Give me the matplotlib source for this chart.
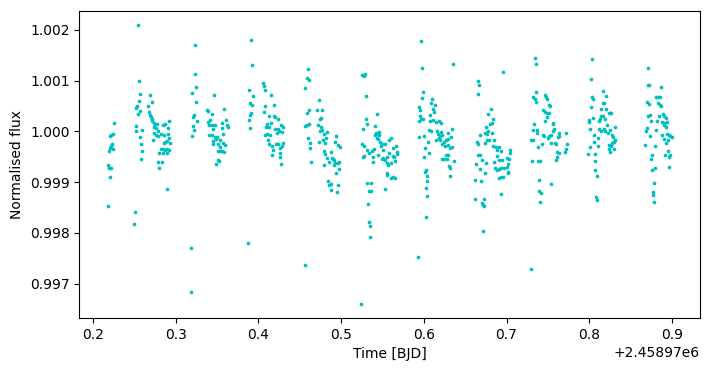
import numpy as np
import matplotlib
matplotlib.use("Agg")
import matplotlib.pyplot as plt

# time offsets are relative to BJD0
BJD0 = 2458970.0

t_a = [0.2258, 0.2218, 0.2242, 0.2206, 0.2226, 0.2218, 0.2202, 0.2246, 0.2197, 0.2177, 0.2193, 0.2214, 0.2210, 0.2185]
f_a = [1.00017, 0.99992, 0.99994, 0.99991, 0.99976, 0.99972, 0.99967, 0.99966, 0.99961, 0.99934, 0.99928, 0.99928, 0.99911, 0.99852]

t_b = [0.2548, 0.2560, 0.2572, 0.2560, 0.2516, 0.2536, 0.2572, 0.2548, 0.2524, 0.2524, 0.2596, 0.2572, 0.2584, 0.2596, 0.2584, 0.2512, 0.2500]
f_b = [1.00210, 1.00100, 1.00074, 1.00060, 1.00046, 1.00049, 1.00040, 1.00035, 1.00011, 1.00001, 1.00003, 0.99988, 0.99976, 0.99962, 0.99946, 0.99842, 0.99818]

t_c = [0.2693, 0.2717, 0.2669, 0.2681, 0.2685, 0.2697, 0.2709, 0.2717, 0.2733, 0.2750, 0.2774, 0.2742, 0.2766, 0.2782,
       0.2850, 0.2866, 0.2919, 0.2911, 0.2742, 0.2758, 0.2790, 0.2822, 0.2854, 0.2911, 0.2729, 0.2923, 0.2870, 0.2895,
       0.2854, 0.2935, 0.2822, 0.2842, 0.2870, 0.2895, 0.2923, 0.2802, 0.2846, 0.2899, 0.2786, 0.2838, 0.2802, 0.2899]
f_c = [1.00072, 1.00058, 1.00049, 1.00038, 1.00033, 1.00028, 1.00024, 1.00020, 1.00017, 1.00014, 1.00014, 1.00008, 1.00007, 1.00001,
       1.00012, 1.00014, 1.00020, 1.00007, 0.99997, 0.99993, 0.99990, 0.99995, 0.99993, 0.99995, 0.99982, 0.99987, 0.99979, 0.99981,
       0.99977, 0.99978, 0.99966, 0.99965, 0.99963, 0.99966, 0.99964, 0.99957, 0.99957, 0.99957, 0.99940, 0.99940, 0.99928, 0.99887]

t_d = [0.3237, 0.3237, 0.3249, 0.3201, 0.3249, 0.3225, 0.3213, 0.3261, 0.3213, 0.3225, 0.3201, 0.3189, 0.3189]
f_d = [1.00171, 1.00112, 1.00088, 1.00076, 1.00058, 1.00033, 1.00028, 1.00021, 1.00011, 1.00003, 0.99990, 0.99771, 0.99684]

t_e = [0.3467, 0.3374, 0.3390, 0.3443, 0.3588, 0.3390, 0.3419, 0.3406, 0.3435, 0.3471, 0.3455, 0.3560, 0.3604, 0.3616,
       0.3628, 0.3564, 0.3406, 0.3439, 0.3471, 0.3495, 0.3576, 0.3455, 0.3487, 0.3535, 0.3447, 0.3515, 0.3576, 0.3600,
       0.3535, 0.3511, 0.3535, 0.3560, 0.3588, 0.3511, 0.3527, 0.3491]
f_e = [1.00072, 1.00042, 1.00040, 1.00035, 1.00045, 1.00018, 1.00022, 1.00013, 1.00012, 1.00013, 1.00005, 1.00017, 1.00022, 1.00012,
       1.00009, 1.00007, 0.99993, 0.99993, 0.99988, 0.99988, 0.99995, 0.99981, 0.99984, 0.99983, 0.99976, 0.99975, 0.99978, 0.99974,
       0.99969, 0.99962, 0.99961, 0.99962, 0.99959, 0.99944, 0.99942, 0.99936]

t_f = [0.3910, 0.3926, 0.3890, 0.3938, 0.3898, 0.3926, 0.3910, 0.3902, 0.3890, 0.3902, 0.4059, 0.4071, 0.4084, 0.4084,
       0.4071, 0.4132, 0.4108, 0.4096, 0.4132, 0.4084, 0.4108, 0.4120, 0.4128, 0.3878,
       0.4156, 0.4192, 0.4192, 0.4204, 0.4241, 0.4156, 0.4204, 0.4241, 0.4277, 0.4301, 0.4229, 0.4253, 0.4289, 0.4144,
       0.4168, 0.4217, 0.4241, 0.4301, 0.4265, 0.4289, 0.4180, 0.4265, 0.4265, 0.4168, 0.4277]
f_f = [1.00180, 1.00131, 1.00082, 1.00070, 1.00056, 1.00051, 1.00037, 1.00033, 1.00023, 1.00007, 1.00096, 1.00090, 1.00082, 1.00049,
       1.00039, 1.00031, 1.00014, 1.00009, 1.00009, 0.99993, 0.99995, 0.99982, 0.99975, 0.99781,
       1.00072, 1.00051, 1.00031, 1.00028, 1.00025, 1.00017, 1.00005, 1.00004, 1.00012, 1.00009, 0.99997, 1.00001, 0.99999, 0.99992,
       0.99972, 0.99976, 0.99976, 0.99977, 0.99968, 0.99971, 0.99963, 0.99958, 0.99950, 0.99954, 0.99936]

t_g = [0.4603, 0.4591, 0.4615, 0.4567, 0.4591, 0.4615, 0.4591, 0.4615, 0.4567, 0.4603, 0.4628, 0.4628, 0.4640,
       0.4736, 0.4712, 0.4773, 0.4757, 0.4748, 0.4724, 0.4761, 0.4773, 0.4748, 0.4789, 0.4833, 0.4736, 0.4785, 0.4805,
       0.4821, 0.4789, 0.4809, 0.4829, 0.4797, 0.4857, 0.4881, 0.4890, 0.4906, 0.4918, 0.4926, 0.4942, 0.4966, 0.4990,
       0.4930, 0.4958, 0.4974, 0.4978, 0.4914, 0.4942, 0.4845, 0.4857, 0.4881, 0.4966, 0.4881, 0.4954, 0.4567]
f_g = [1.00123, 1.00106, 1.00102, 1.00086, 1.00037, 1.00043, 1.00013, 1.00015, 1.00011, 0.99986, 0.99978, 0.99968, 0.99940,
       1.00062, 1.00043, 1.00043, 1.00026, 1.00025, 1.00013, 1.00009, 1.00003, 1.00001, 0.99995, 0.99999, 0.99980, 0.99982, 0.99978,
       0.99987, 0.99962, 0.99956, 0.99948, 0.99933, 0.99939, 0.99959, 0.99948, 0.99946, 0.99944, 0.99979, 0.99991, 0.99973, 0.99970,
       0.99938, 0.99938, 0.99940, 0.99925, 0.99934, 0.99917, 0.99903, 0.99895, 0.99896, 0.99895, 0.99885, 0.99881, 0.99736]

t_h = [0.5256, 0.5280, 0.5293, 0.5305, 0.5305, 0.5317, 0.5268, 0.5438, 0.5413, 0.5256, 0.5280, 0.5317, 0.5268, 0.5280,
       0.5333, 0.5377, 0.5401, 0.5381, 0.5381, 0.5405, 0.5421, 0.5438, 0.5454, 0.5462, 0.5430, 0.5446, 0.5470, 0.5494,
       0.5478, 0.5526, 0.5502, 0.5446, 0.5490, 0.5510, 0.5534, 0.5558, 0.5583, 0.5599, 0.5583, 0.5631, 0.5667, 0.5679,
       0.5679, 0.5623, 0.5643, 0.5655, 0.5607, 0.5558, 0.5571, 0.5550, 0.5550, 0.5607, 0.5631, 0.5655, 0.5317, 0.5365,
       0.5341, 0.5365, 0.5534, 0.5329, 0.5341, 0.5353, 0.5353, 0.5244]
f_h = [1.00110, 1.00109, 1.00112, 1.00070, 1.00025, 1.00015, 1.00005, 1.00035, 1.00011, 0.99976, 0.99972, 0.99964, 0.99950, 0.99952,
       0.99957, 0.99962, 0.99965, 0.99950, 0.99940, 0.99993, 0.99997, 0.99995, 0.99999, 0.99992, 0.99987, 0.99984, 0.99980, 0.99976,
       0.99972, 0.99975, 0.99963, 0.99954, 0.99946, 0.99948, 0.99944, 0.99950, 0.99958, 0.99986, 0.99983, 0.99967, 0.99972, 0.99959,
       0.99955, 0.99951, 0.99949, 0.99942, 0.99937, 0.99938, 0.99934, 0.99918, 0.99915, 0.99908, 0.99911, 0.99909, 0.99899, 0.99899,
       0.99883, 0.99883, 0.99887, 0.99856, 0.99822, 0.99814, 0.99791, 0.99660]

t_i = [0.5970, 0.5982, 0.5994, 0.5982, 0.5945, 0.5957, 0.5957, 0.5970, 0.5945, 0.5986, 0.6078, 0.6090, 0.6103, 0.6115,
       0.6127, 0.6139, 0.6078, 0.6115, 0.6151, 0.6183, 0.6066, 0.6090, 0.6163, 0.6175, 0.6151, 0.6187, 0.5945, 0.6006,
       0.6054, 0.6066, 0.6018, 0.6006, 0.6026, 0.6018, 0.6042, 0.6042, 0.6030, 0.6042, 0.6030, 0.5933,
       0.6211, 0.6211, 0.6199, 0.6223, 0.6199, 0.6248, 0.6272, 0.6296, 0.6223, 0.6260, 0.6296, 0.6320, 0.6344, 0.6332,
       0.6296, 0.6344, 0.6223, 0.6248, 0.6284, 0.6272, 0.6296, 0.6369, 0.6308, 0.6320, 0.6320, 0.6357]
f_i = [1.00177, 1.00125, 1.00078, 1.00066, 1.00047, 1.00043, 1.00031, 1.00024, 1.00021, 1.00024, 1.00033, 1.00056, 1.00064, 1.00045,
       1.00038, 1.00051, 1.00021, 1.00023, 1.00018, 1.00021, 1.00003, 1.00001, 1.00001, 0.99995, 0.99982, 0.99986, 0.99988, 0.99991,
       0.99980, 0.99958, 0.99968, 0.99950, 0.99923, 0.99919, 0.99913, 0.99903, 0.99889, 0.99873, 0.99832, 0.99753,
       1.00017, 0.99999, 0.99991, 0.99992, 0.99982, 0.99980, 0.99983, 0.99984, 0.99975, 0.99972, 0.99974, 0.99968, 0.99970, 0.99989,
       0.99997, 1.00005, 0.99945, 0.99945, 0.99945, 0.99953, 0.99953, 0.99942, 0.99932, 0.99928, 0.99913, 1.00133]

t_j = [0.6659, 0.6671, 0.6659, 0.6816, 0.6780, 0.6840, 0.6828, 0.6804, 0.6755, 0.6780, 0.6739, 0.6767, 0.6828, 0.6683,
       0.6792, 0.6767, 0.6852, 0.6639, 0.6659, 0.6739, 0.6840, 0.6868, 0.6909, 0.6884, 0.6933, 0.7046, 0.7038, 0.6888,
       0.6852, 0.6913, 0.6945, 0.7005, 0.7029, 0.7013, 0.6659, 0.6683, 0.6707, 0.6635, 0.6755, 0.6683, 0.6743, 0.6864,
       0.6884, 0.6913, 0.6937, 0.6973, 0.7009, 0.7013, 0.7021, 0.6913, 0.6933, 0.6957, 0.6622, 0.6695, 0.6937, 0.6622,
       0.6731, 0.6707, 0.6719, 0.6731, 0.6719, 0.6961]
f_j = [1.00100, 1.00092, 1.00074, 1.00045, 1.00035, 1.00025, 1.00017, 1.00015, 1.00009, 1.00001, 0.99996, 0.99995, 0.99997, 0.99993,
       0.99983, 0.99983, 0.99982, 0.99980, 0.99976, 0.99978, 0.99971, 0.99970, 0.99970, 0.99963, 0.99961, 0.99963, 0.99958, 0.99951,
       0.99940, 0.99944, 0.99944, 0.99948, 0.99946, 0.99936, 0.99953, 0.99954, 0.99944, 0.99936, 0.99938, 0.99925, 0.99917, 0.99927,
       0.99923, 0.99925, 0.99927, 0.99928, 0.99930, 0.99920, 0.99917, 0.99909, 0.99910, 0.99911, 0.99905, 0.99903, 0.99877, 0.99867,
       0.99867, 0.99859, 0.99854, 0.99852, 0.99803, 1.00117]

t_k = [0.7348, 0.7360, 0.7360, 0.7324, 0.7348, 0.7360, 0.7469, 0.7481, 0.7493, 0.7509, 0.7525, 0.7445, 0.7469, 0.7493,
       0.7517, 0.7485, 0.7469, 0.7557, 0.7565, 0.7336, 0.7324, 0.7372, 0.7372, 0.7436, 0.7453, 0.7517, 0.7541, 0.7557,
       0.7578, 0.7501, 0.7299, 0.7324, 0.7432, 0.7541, 0.7590, 0.7598, 0.7630, 0.7638, 0.7626, 0.7723, 0.7735, 0.7723,
       0.7711, 0.7614, 0.7638, 0.7606, 0.7602, 0.7384, 0.7312, 0.7384, 0.7408, 0.7396, 0.7541, 0.7396, 0.7420, 0.7408, 0.7299]
f_k = [1.00145, 1.00133, 1.00078, 1.00068, 1.00064, 1.00058, 1.00072, 1.00068, 1.00064, 1.00051, 1.00049, 1.00043, 1.00038, 1.00037,
       1.00037, 1.00029, 1.00021, 1.00017, 1.00014, 1.00015, 1.00003, 1.00003, 0.99997, 0.99993, 0.99991, 0.99991, 0.99993, 1.00000,
       1.00004, 0.99987, 0.99982, 0.99982, 0.99976, 0.99978, 0.99978, 0.99975, 0.99997, 0.99991, 0.99988, 0.99997, 0.99976, 0.99965,
       0.99959, 0.99959, 0.99957, 0.99949, 0.99944, 0.99970, 0.99942, 0.99941, 0.99941, 0.99905, 0.99897, 0.99883, 0.99879, 0.99860, 0.99728]

t_l = [0.8037, 0.8025, 0.8037, 0.8049, 0.8025, 0.8162, 0.8170, 0.8182, 0.8206, 0.8146, 0.8206, 0.8243, 0.8001, 0.8001,
       0.8049, 0.8122, 0.8134, 0.8146, 0.8170, 0.8194, 0.8218, 0.8013, 0.8122, 0.8146, 0.8182, 0.8194, 0.8230, 0.8061,
       0.8110, 0.8061, 0.8013, 0.8110, 0.7989, 0.8073, 0.8243, 0.8243, 0.8073, 0.8073, 0.8097, 0.8085, 0.8097,
       0.8251, 0.8267, 0.8255, 0.8315, 0.8279, 0.8291, 0.8315, 0.8303, 0.8279, 0.8267, 0.8303, 0.8255]
f_l = [1.00143, 1.00104, 1.00068, 1.00064, 1.00047, 1.00080, 1.00056, 1.00056, 1.00070, 1.00045, 1.00045, 1.00037, 1.00023, 1.00018,
       1.00027, 1.00020, 1.00025, 1.00030, 1.00031, 1.00024, 1.00013, 1.00005, 1.00005, 1.00001, 1.00005, 1.00001, 0.99997, 0.99993,
       0.99986, 0.99980, 0.99970, 0.99971, 0.99956, 0.99956, 0.99974, 0.99966, 0.99942, 0.99923, 0.99913, 0.99871, 0.99864,
       1.00037, 1.00037, 1.00003, 1.00009, 0.99993, 0.99988, 0.99983, 0.99979, 0.99978, 0.99971, 0.99966, 0.99959]

t_m = [0.8714, 0.8714, 0.8726, 0.8871, 0.8698, 0.8726, 0.8811, 0.8835, 0.8851, 0.8835, 0.8851, 0.8867, 0.8706, 0.8738,
       0.8847, 0.8895, 0.8907, 0.8932, 0.8750, 0.8823, 0.8883, 0.8907, 0.8944, 0.8899, 0.8924, 0.8698, 0.8690, 0.8811,
       0.8883, 0.8940, 0.8964, 0.8980, 0.8996, 0.8738, 0.8907, 0.8952, 0.8932, 0.8678, 0.8799, 0.8956, 0.8920, 0.8980,
       0.8968, 0.8762, 0.8750, 0.8799, 0.8762, 0.8968, 0.8787, 0.8775, 0.8775, 0.8787]
f_m = [1.00125, 1.00092, 1.00092, 1.00088, 1.00058, 1.00054, 1.00067, 1.00067, 1.00067, 1.00056, 1.00052, 1.00050, 1.00031, 1.00033,
       1.00030, 1.00035, 1.00030, 1.00026, 1.00021, 1.00021, 1.00019, 1.00017, 1.00018, 1.00012, 1.00009, 1.00007, 1.00001, 1.00003,
       0.99993, 0.99995, 0.99993, 0.99991, 0.99988, 0.99990, 0.99984, 0.99983, 0.99978, 0.99974, 0.99972, 0.99962, 0.99954, 0.99954,
       0.99950, 0.99954, 0.99946, 0.99928, 0.99923, 0.99930, 0.99899, 0.99881, 0.99875, 0.99860]

time_groups = [t_a, t_b, t_c, t_d, t_e, t_f, t_g, t_h, t_i, t_j, t_k, t_l, t_m]
flux_groups = [f_a, f_b, f_c, f_d, f_e, f_f, f_g, f_h, f_i, f_j, f_k, f_l, f_m]

time = np.concatenate([np.array(t) for t in time_groups]) + BJD0
flux = np.concatenate([np.array(f) for f in flux_groups])

fig = plt.figure(figsize=(7.09, 3.71), dpi=100)
ax = fig.add_subplot(111)
fig.subplots_adjust(left=0.112, right=0.987, top=0.971, bottom=0.143)
ax.scatter(time, flux, s=7, c="c", linewidths=0)
ax.set_xlabel("Time [BJD]")
ax.set_ylabel("Normalised flux")
fig.savefig("out.png", dpi=100)
